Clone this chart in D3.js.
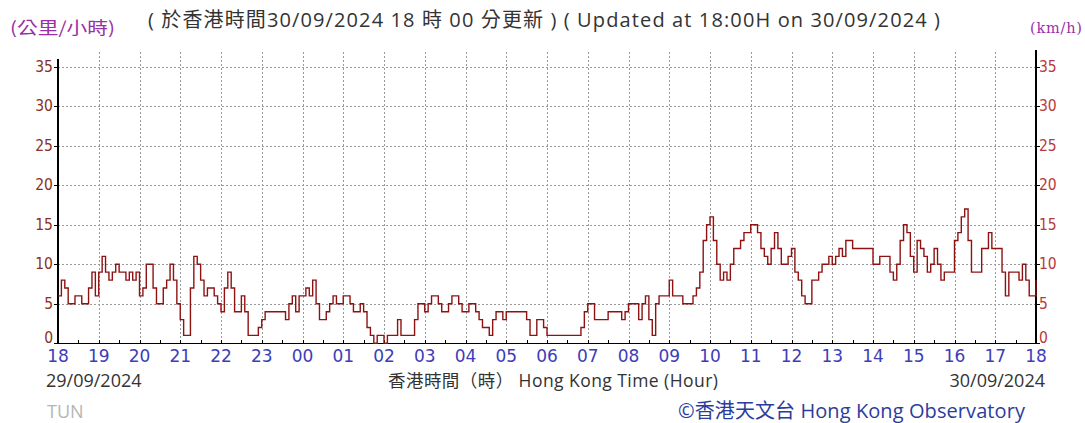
<!DOCTYPE html>
<html><head><meta charset="utf-8">
<script src="https://cdn.jsdelivr.net/npm/d3@7"></script>
<style>
html,body{margin:0;padding:0;background:#fff;}
svg{display:block;}
</style>
</head><body>
<svg id="chart" width="1085" height="423"></svg>
<script>
// ---- data ----
const hourLabels = ["18","19","20","21","22","23","00","01","02","03","04","05","06","07","08","09","10","11","12","13","14","15","16","17","18"];
const yTicks = [0,5,10,15,20,25,30,35];
const stepMinutes = 5;
// 5-minute mean wind speed (km/h), 29/09/2024 18:00 to 30/09/2024 18:00
const windSpeed = [
 6,8,7,5,5,6,6,5,5,7,9,6,
 9,11,9,8,9,10,9,9,8,9,8,9,
 6,7,10,10,7,5,5,7,8,10,8,5,
 3,1,1,7,11,10,8,6,7,7,6,5,
 4,7,9,7,4,4,6,4,1,1,1,2,
 3,4,4,4,4,4,4,3,5,6,4,6,
 6,7,6,8,5,3,3,4,5,6,5,5,
 6,6,5,4,4,5,4,2,1,0,1,1,
 0,1,1,1,3,1,1,1,1,3,5,5,
 4,5,6,6,5,4,4,5,6,6,5,4,
 4,5,5,4,3,2,2,1,3,4,4,3,
 4,4,4,4,4,4,3,1,1,3,3,2,
 1,1,1,1,1,1,1,1,1,1,2,4,
 5,5,3,3,3,3,4,4,4,4,3,4,
 5,5,5,3,5,6,3,1,5,6,6,6,
 8,6,6,6,5,5,5,6,7,9,13,15,
 16,13,10,8,9,8,10,12,12,13,14,14,
 15,15,14,12,11,10,12,14,12,10,10,11,
 12,9,8,6,5,5,8,8,9,10,10,11,
 10,11,12,11,13,13,12,12,12,12,12,12,
 10,10,11,11,11,9,8,10,13,15,14,11,
 9,13,12,11,9,10,12,10,8,9,9,9,
 13,14,16,17,13,9,9,9,12,12,14,12,
 12,12,9,6,9,9,9,8,10,8,6,6,
 8
];
const titleText = "( 於香港時間30/09/2024 18 時 00 分更新 ) ( Updated at 18:00H on 30/09/2024 )";
const unitLeft = "(公里/小時)";
const unitRight = "(km/h)";
const xTitle = "香港時間（時） Hong Kong Time (Hour)";
const dateStart = "29/09/2024";
const dateEnd = "30/09/2024";
const stationCode = "TUN";
const credit = "©香港天文台 Hong Kong Observatory";

// ---- layout ----
const svg = d3.select("#chart");
const L = 58, R = 1036, B = 343.3, T = 66.7;
const x = d3.scaleLinear().domain([0, 24*60]).range([L, R]);
const y = d3.scaleLinear().domain([0, 35]).range([B, T]);
const hourIdx = d3.range(hourLabels.length);

// grid
const grid = svg.append("g").attr("stroke", "#9a9a9a").attr("stroke-width", 1).attr("stroke-dasharray", "2,2").attr("shape-rendering","crispEdges");
grid.selectAll("line.h").data(yTicks.filter(d => d > 0)).join("line")
  .attr("x1", L).attr("x2", R).attr("y1", d => Math.round(y(d))+0.5).attr("y2", d => Math.round(y(d))+0.5);
grid.selectAll("line.v").data(hourIdx.slice(1, -1)).join("line")
  .attr("x1", d => Math.round(x(d*60))+0.5).attr("x2", d => Math.round(x(d*60))+0.5)
  .attr("y1", 52).attr("y2", B);

// axes lines
const ax = svg.append("g").attr("stroke", "#000").attr("stroke-width", 1.5).attr("shape-rendering","crispEdges");
ax.append("line").attr("x1", L).attr("x2", L).attr("y1", 59).attr("y2", B);
ax.append("line").attr("x1", R).attr("x2", R).attr("y1", 50).attr("y2", B);
ax.append("line").attr("x1", L).attr("x2", R).attr("y1", B).attr("y2", B);

// y ticks
const tk = svg.append("g").attr("stroke", "#000").attr("stroke-width", 1).attr("shape-rendering","crispEdges");
tk.selectAll("line.l").data(yTicks).join("line").attr("x1", L-4).attr("x2", L).attr("y1", d => Math.round(y(d))+0.5).attr("y2", d => Math.round(y(d))+0.5);
tk.selectAll("line.r").data(yTicks).join("line").attr("x1", R).attr("x2", R+4).attr("y1", d => Math.round(y(d))+0.5).attr("y2", d => Math.round(y(d))+0.5);
// x minor ticks (half hours and hours)
tk.selectAll("line.x").data(d3.range(1, 48)).join("line")
  .attr("x1", d => Math.round(x(d*30))+0.5).attr("x2", d => Math.round(x(d*30))+0.5)
  .attr("y1", B-3).attr("y2", B);

// y labels
const yFont = "'Liberation Sans Narrow','DejaVu Sans Condensed',sans-serif";
svg.append("g").selectAll("text").data(yTicks).join("text")
  .attr("x", L-5).attr("y", d => y(d) + (d === 0 ? 0 : 5))
  .attr("text-anchor", "end").attr("font-family", yFont).attr("font-size", 15.5)
  .attr("fill", "#8a3020").text(d => d);
svg.append("g").selectAll("text").data(yTicks).join("text")
  .attr("x", R+3).attr("y", d => y(d) + (d === 0 ? 0 : 5))
  .attr("text-anchor", "start").attr("font-family", yFont).attr("font-size", 15.5)
  .attr("fill", "#b83a3a").text(d => d);

// x labels
svg.append("g").selectAll("text").data(hourIdx).join("text")
  .attr("x", d => x(d*60)).attr("y", 362)
  .attr("text-anchor", "middle").attr("font-family", "'DejaVu Sans',sans-serif").attr("font-size", 17)
  .attr("fill", "#3d3db8").text(d => hourLabels[d]);

// line
const line = d3.line().x((d, i) => x(i*stepMinutes)).y(d => y(d)).curve(d3.curveStepAfter);
svg.append("path").datum(windSpeed).attr("d", line)
  .attr("fill", "none").attr("stroke", "#8e1212").attr("stroke-width", 1.4);

// texts
const sans = "'Open Sans','Noto Sans CJK TC',sans-serif";
svg.append("text").attr("x", 148).attr("y", 27)
  .attr("font-family", sans).attr("font-size", 20).attr("fill", "#333")
  .attr("textLength", 792).attr("lengthAdjust", "spacing").text(titleText);
svg.append("text").attr("x", 10).attr("y", 34)
  .attr("font-family", "'Noto Sans CJK TC',sans-serif").attr("font-size", 17).attr("fill", "#9a30a8")
  .attr("textLength", 105).attr("lengthAdjust", "spacingAndGlyphs").text(unitLeft);
svg.append("text").attr("x", 1030).attr("y", 33)
  .attr("font-family", "'DejaVu Serif',serif").attr("font-size", 14.5).attr("fill", "#9a30a8")
  .attr("textLength", 52).attr("lengthAdjust", "spacing").text(unitRight);
svg.append("text").attr("x", 46).attr("y", 387)
  .attr("font-family", sans).attr("font-size", 18).attr("fill", "#333").text(dateStart);
svg.append("text").attr("x", 1045).attr("y", 387).attr("text-anchor", "end")
  .attr("font-family", sans).attr("font-size", 18).attr("fill", "#333").text(dateEnd);
svg.append("text").attr("x", 388).attr("y", 387)
  .attr("font-family", sans).attr("font-size", 17.5).attr("fill", "#333")
  .attr("textLength", 330).attr("lengthAdjust", "spacing").text(xTitle);
svg.append("text").attr("x", 47).attr("y", 418)
  .attr("font-family", sans).attr("font-size", 18).attr("fill", "#b5b5b5").text(stationCode);
svg.append("text").attr("x", 678).attr("y", 418)
  .attr("font-family", sans).attr("font-size", 20).attr("fill", "#2c3c9c")
  .attr("textLength", 347).attr("lengthAdjust", "spacing").text(credit);
</script>
</body></html>
